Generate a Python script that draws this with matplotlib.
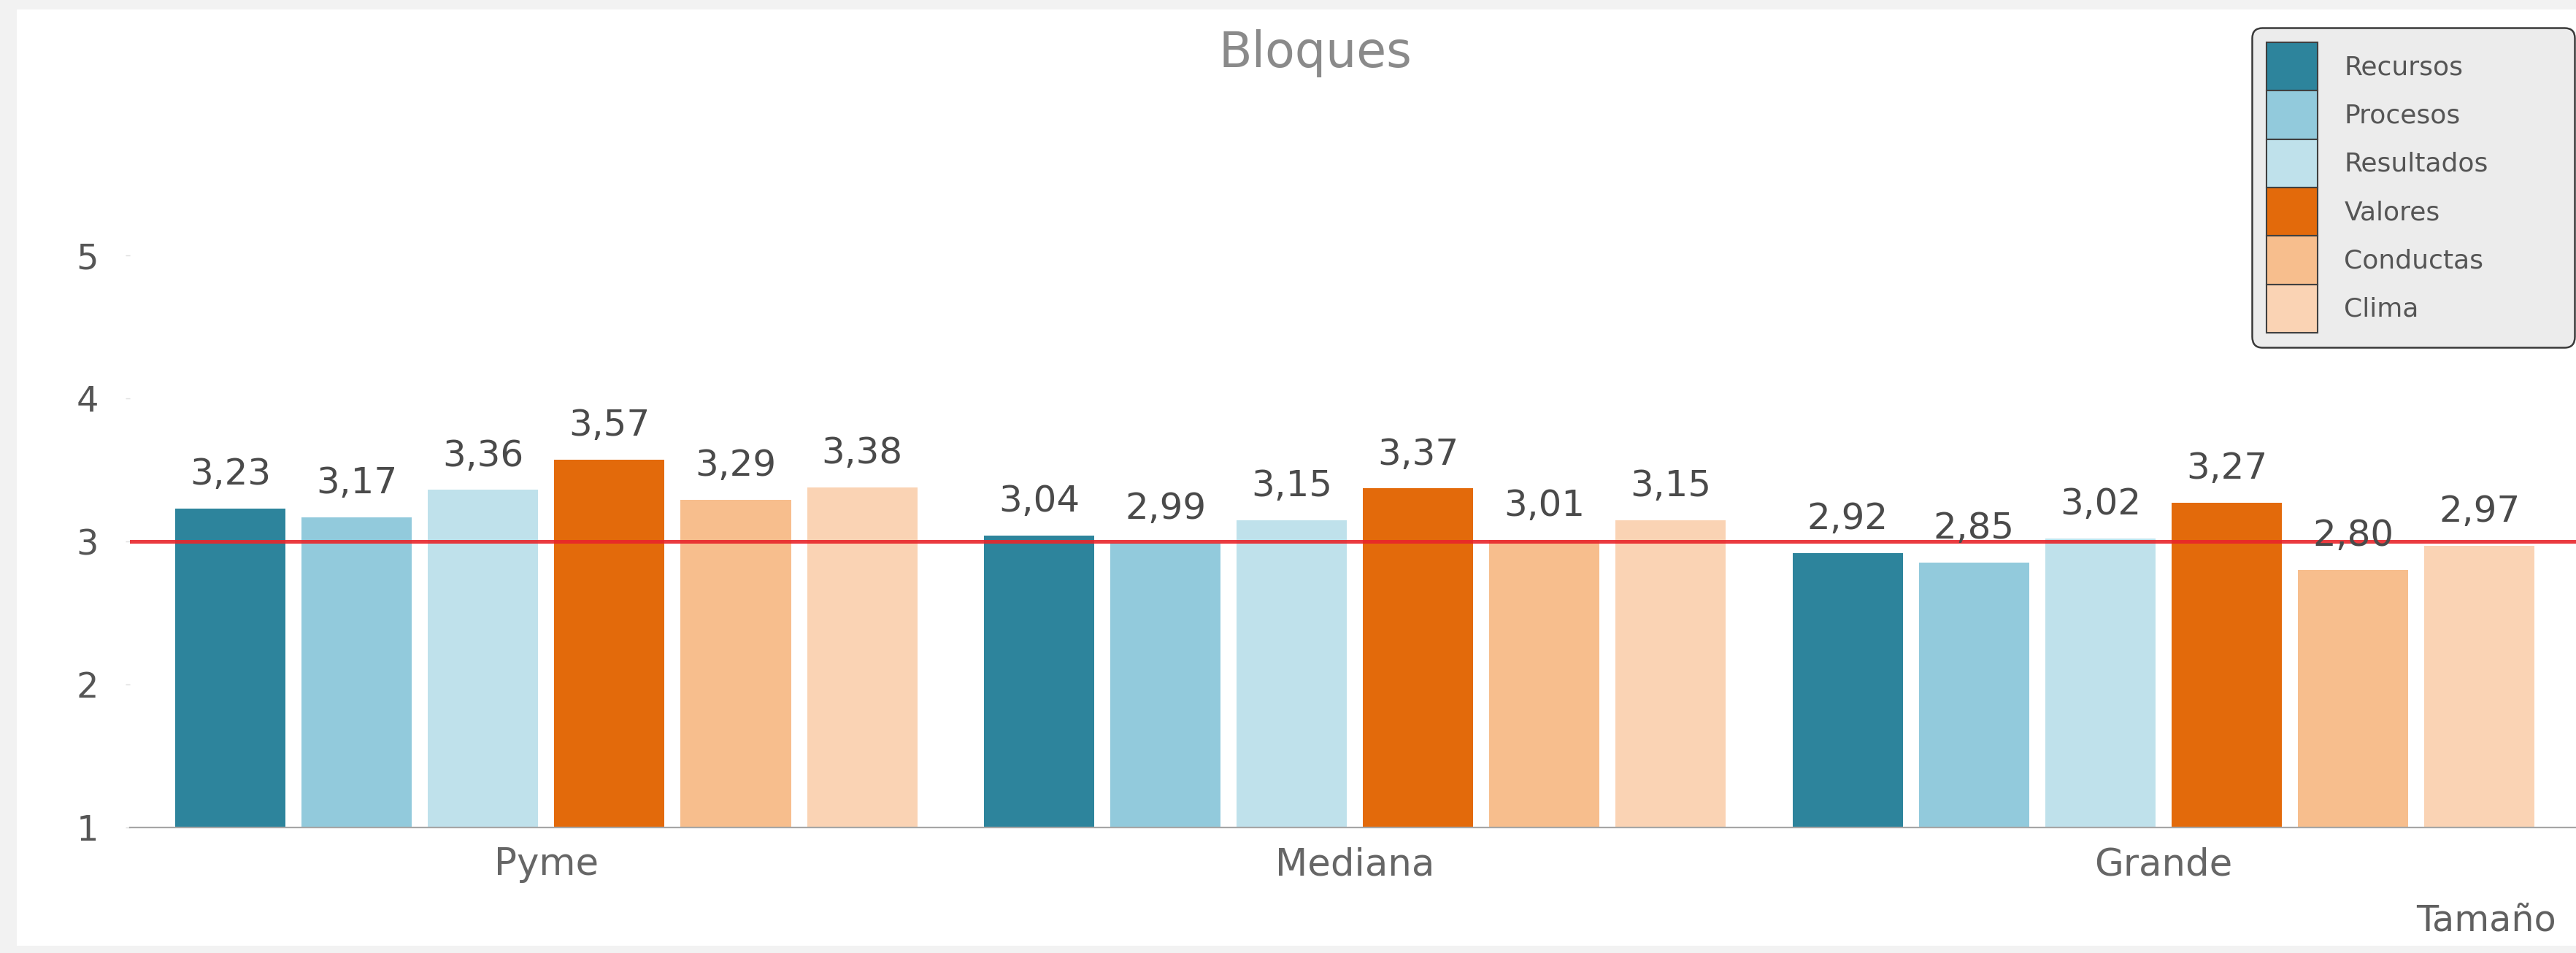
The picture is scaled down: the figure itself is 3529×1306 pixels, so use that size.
"""
Bloques por tamaño de empresa
"""
import matplotlib
matplotlib.use("Agg")
import matplotlib.pyplot as plt
from matplotlib.patches import Patch, Rectangle
import numpy as np

categories = ["Pyme", "Mediana", "Grande"]
series = ["Recursos", "Procesos", "Resultados", "Valores", "Conductas", "Clima"]

recursos = [3.23, 3.04, 2.92]
procesos = [3.17, 2.99, 2.85]
resultados = [3.36, 3.15, 3.02]
valores = [3.57, 3.37, 3.27]
conductas = [3.29, 3.01, 2.80]
clima = [3.38, 3.15, 2.97]

reference_level = 3
y_ticks = [1, 2, 3, 4, 5]

colors = ["#2d849c", "#92cadc", "#bfe1eb", "#e36a0b", "#f7be8d", "#fad3b4"]


def main():
    plt.rcParams["font.family"] = ["DejaVu Sans"]
    W, H = 3530, 1306
    fig = plt.figure(figsize=(W / 100, H / 100), dpi=100, facecolor="#f2f2f2")

    # white panel inside the grey frame, kept behind the axes
    fig.patches.append(Rectangle((23 / W, 1 - 1296 / H), 1 - 23 / W, (1296 - 13) / H,
                                 transform=fig.transFigure, facecolor="white",
                                 edgecolor="none", zorder=-10))

    ax = fig.add_axes([178 / W, 1 - 1134 / H, 1 - 178 / W, (1134 - 154) / H])
    ax.set_facecolor("none")
    ax.set_zorder(1)

    values = [recursos, procesos, resultados, valores, conductas, clima]
    group_step = 6.4
    width = 0.873
    centers = np.arange(len(categories)) * group_step

    for j, (name, vals, col) in enumerate(zip(series, values, colors)):
        xs = centers + (j - 2.5)
        bars = ax.bar(xs, vals, width=width, color=col, label=name, zorder=2)
        for rect, v in zip(bars, vals):
            ax.annotate(f"{v:.2f}".replace(".", ","),
                        (rect.get_x() + rect.get_width() / 2, v),
                        xytext=(0, 16.5), textcoords="offset points",
                        ha="center", va="bottom", fontsize=36, color="#4a4a4a",
                        zorder=4)

    ax.axhline(reference_level, color="#e8262b", lw=3.6, alpha=0.9, zorder=3)

    ax.set_xlim(-3.295, centers[-1] + 3.27)
    ax.set_ylim(1, 6)
    ax.set_yticks(y_ticks)
    ax.set_xticks(centers)
    ax.set_xticklabels(categories)

    for side in ["top", "right", "left"]:
        ax.spines[side].set_visible(False)
    ax.spines["bottom"].set_color("#a6a6a6")
    ax.spines["bottom"].set_linewidth(1.6)

    ax.tick_params(axis="y", length=4, width=1, color="#dddddd", pad=27,
                   labelsize=34.5, labelcolor="#555555")
    ax.tick_params(axis="x", length=0, pad=19, labelsize=37, labelcolor="#666666")

    ax.set_xlabel("Tamaño", loc="right", fontsize=35.5, color="#606060")
    ax.xaxis.set_label_coords((3502 - 178) / (W - 178), -(1238 - 1134) / (1134 - 154))

    fig.text(1802 / W, 1 - 92 / H, "Bloques", ha="center", va="baseline",
             fontsize=48, color="#8a8a8a")

    handles = [Patch(facecolor=c, edgecolor="#404040", linewidth=1.5) for c in colors]
    leg = ax.legend(handles, series, loc="upper left",
                    bbox_to_anchor=(3085 / W, 1 - 488 / H, (3527 - 3085) / W, (488 - 38) / H),
                    bbox_transform=fig.transFigure, mode="expand",
                    fontsize=26, labelcolor="#555555", frameon=True, fancybox=True,
                    handlelength=1.95, handleheight=2.45, handletextpad=1.0,
                    labelspacing=0, borderpad=0.55, borderaxespad=0)
    frame = leg.get_frame()
    frame.set_facecolor("#ececec")
    frame.set_edgecolor("#3a3a3a")
    frame.set_linewidth(1.8)
    frame.set_alpha(1)
    frame.set_boxstyle("round,pad=0,rounding_size=0.4")

    fig.savefig("out.png", dpi=100, facecolor=fig.get_facecolor())


if __name__ == "__main__":
    main()
